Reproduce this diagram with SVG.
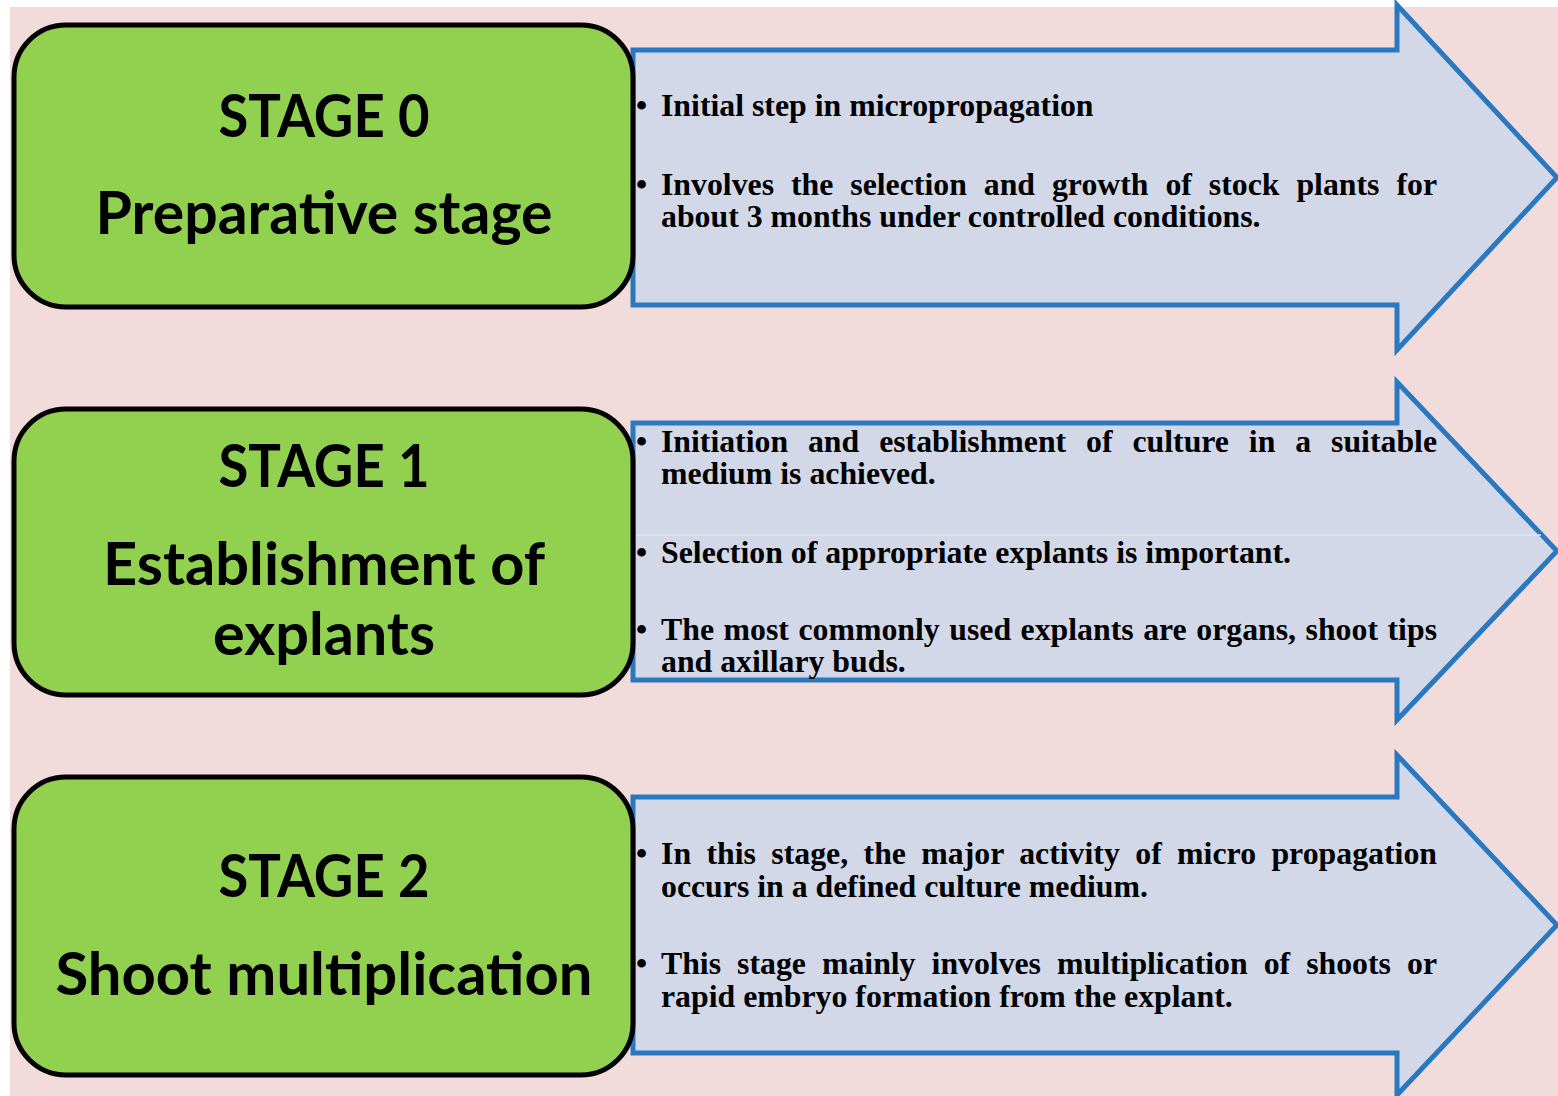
<svg xmlns="http://www.w3.org/2000/svg" width="1558" height="1096" viewBox="0 0 1558 1096">
  <style>
    .bg { fill: #F2DCDB; }
    .arrow { fill: #D3D8E8; stroke: #2A79C0; stroke-width: 5; stroke-linejoin: miter; }
    .box { fill: #92D050; stroke: #000000; stroke-width: 5; }
    .title { font-family: "Lato", "Liberation Sans", sans-serif; font-weight: bold; font-size: 60px; fill: #000000; text-anchor: middle; }
    .body { font-family: "Liberation Serif", "Times New Roman", serif; font-weight: bold; font-size: 31.8px; fill: #000000; }
  </style>
  <rect class="bg" x="10" y="7" width="1548" height="1089"/>

  <g id="details0">
    <path class="arrow" d="M633,50 H1397 V5 L1557,177.5 L1397,350 V305 H633 Z"/>
    <text class="body" x="636" y="116">•</text>
    <text class="body" x="661" y="116">Initial step in micropropagation</text>
    <text class="body" x="636" y="195">•</text>
    <text class="body" x="661" y="195" word-spacing="9" textLength="776" lengthAdjust="spacing">Involves the selection and growth of stock plants for</text>
    <text class="body" x="661" y="227">about 3 months under controlled conditions.</text>
  </g>

  <g id="details1">
    <path class="arrow" d="M633,423 H1397 V382 L1557,551 L1397,720 V680 H633 Z"/>
    <line x1="636" y1="535" x2="1541" y2="535" stroke="#E2E6F1" stroke-width="1.5"/>
    <text class="body" x="636" y="452">•</text>
    <text class="body" x="661" y="452" word-spacing="12" textLength="776" lengthAdjust="spacing">Initiation and establishment of culture in a suitable</text>
    <text class="body" x="661" y="484">medium is achieved.</text>
    <text class="body" x="636" y="563">•</text>
    <text class="body" x="661" y="563">Selection of appropriate explants is important.</text>
    <text class="body" x="636" y="640">•</text>
    <text class="body" x="661" y="640" word-spacing="1.6" textLength="776" lengthAdjust="spacing">The most commonly used explants are organs, shoot tips</text>
    <text class="body" x="661" y="672">and axillary buds.</text>
  </g>

  <g id="details2">
    <path class="arrow" d="M633,797 H1397 V755 L1557,925 L1397,1095 V1053 H633 Z"/>
    <text class="body" x="636" y="864">•</text>
    <text class="body" x="661" y="864" word-spacing="7.4" textLength="776" lengthAdjust="spacing">In this stage, the major activity of micro propagation</text>
    <text class="body" x="661" y="897">occurs in a defined culture medium.</text>
    <text class="body" x="636" y="974">•</text>
    <text class="body" x="661" y="974" word-spacing="8.2" textLength="776" lengthAdjust="spacing">This stage mainly involves multiplication of shoots or</text>
    <text class="body" x="661" y="1007">rapid embryo formation from the explant.</text>
  </g>

  <g id="stage0">
    <rect class="box" x="14" y="25" width="619" height="282" rx="52" ry="52"/>
    <text class="title" x="324" y="137" textLength="211" lengthAdjust="spacingAndGlyphs">STAGE 0</text>
    <text class="title" x="324" y="234" textLength="457" lengthAdjust="spacingAndGlyphs">Preparative stage</text>
  </g>

  <g id="stage1">
    <rect class="box" x="14" y="409" width="619" height="286" rx="52" ry="52"/>
    <text class="title" x="324" y="487" textLength="211" lengthAdjust="spacingAndGlyphs">STAGE 1</text>
    <text class="title" x="324" y="585" textLength="442" lengthAdjust="spacingAndGlyphs">Establishment of</text>
    <text class="title" x="324" y="655" textLength="222" lengthAdjust="spacingAndGlyphs">explants</text>
  </g>

  <g id="stage2">
    <rect class="box" x="14" y="777" width="619" height="298" rx="52" ry="52"/>
    <text class="title" x="324" y="897" textLength="211" lengthAdjust="spacingAndGlyphs">STAGE 2</text>
    <text class="title" x="324" y="995" textLength="537" lengthAdjust="spacingAndGlyphs">Shoot multiplication</text>
  </g>

  <g id="connectors"/>
</svg>
